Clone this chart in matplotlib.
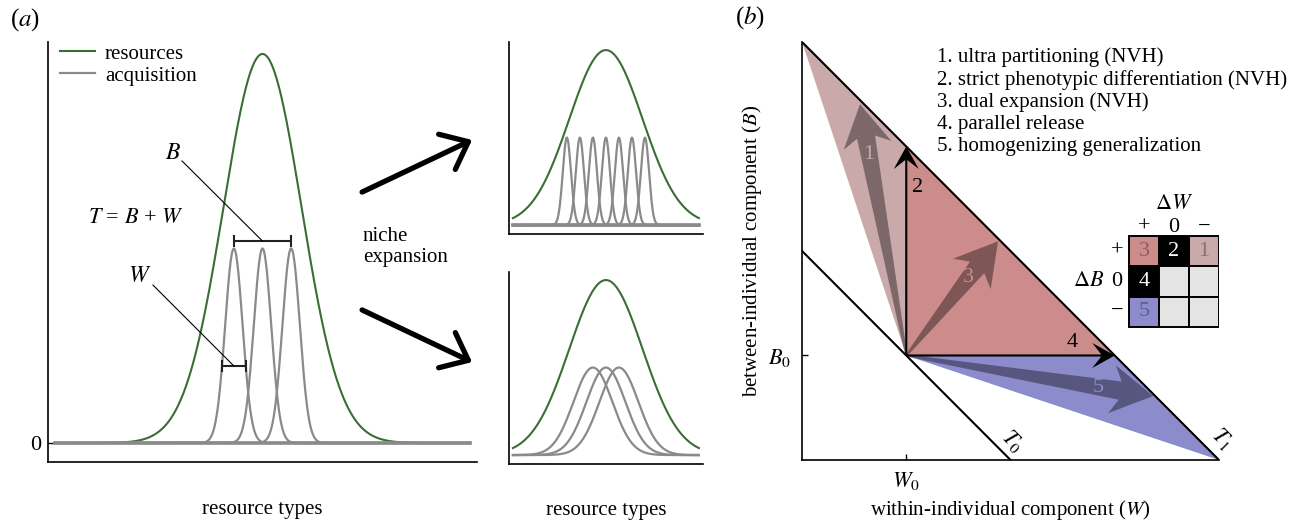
import numpy as np
import matplotlib
matplotlib.use('Agg')
import matplotlib.pyplot as plt
from matplotlib.patches import Polygon, Rectangle
from matplotlib.lines import Line2D

plt.rcParams['font.family'] = ['Liberation Serif', 'DejaVu Serif']
plt.rcParams['mathtext.fontset'] = 'stix'
plt.rcParams['font.size'] = 15

# ---- panel (a): resource / acquisition curves ----
res_centre = 0.5
res_sd_main = 0.094
res_sd_sub = 0.197
acq_height = 0.5
acq_centres_main = [0.431, 0.5, 0.569]
acq_sd_main = 0.021
acq_centres_top = [0.29, 0.36, 0.43, 0.5, 0.57, 0.64, 0.71]
acq_sd_top = 0.022
acq_centres_bottom = [0.43, 0.5, 0.57]
acq_sd_bottom = 0.105

# ---- panel (b): niche decomposition ----
W0, B0 = 0.25, 0.25
T0, T1 = 0.5, 1.0
arrow_ids = ['1', '2', '3', '4', '5']
arrow_tips = [(0.139, 0.851), (0.25, 0.75), (0.470, 0.523), (0.75, 0.25), (0.842, 0.153)]
arrow_label_pos = [(0.161, 0.731), (0.276, 0.652), (0.398, 0.436), (0.647, 0.281), (0.710, 0.173)]
strategies = ['1. ultra partitioning (NVH)',
              '2. strict phenotypic differentiation (NVH)',
              '3. dual expansion (NVH)',
              '4. parallel release',
              '5. homogenizing generalization']
table_signs = ['+', '0', '\u2212']
table_text = [['3', '2', '1'], ['4', '', ''], ['5', '', '']]

green = '#3b6e35'
grey = '#8a8a8a'
col1 = '#c9a9a9'
col3 = '#cc8c8c'
col5 = '#8c8ccc'
cell_grey = '#e4e4e4'
table_fill = [[col3, 'k', col1], ['k', cell_grey, cell_grey], [col5, cell_grey, cell_grey]]


def gauss(x, mu, sd, h=1.0):
    return h * np.exp(-0.5 * ((x - mu) / sd) ** 2)


def fat_arrow(ax, start, end, w0, w1, head_w, head_len, notch, **kw):
    start = np.asarray(start, float)
    end = np.asarray(end, float)
    d = end - start
    u = d / np.hypot(*d)
    n = np.array([-u[1], u[0]])
    base = end - u * head_len
    join = end - u * head_len * notch
    pts = [start + n * w0 / 2, join + n * w1 / 2, base + n * head_w, end,
           base - n * head_w, join - n * w1 / 2, start - n * w0 / 2]
    ax.add_patch(Polygon(pts, closed=True, lw=0, **kw))


def clean(ax):
    for s in ['top', 'right']:
        ax.spines[s].set_visible(False)
    for s in ['left', 'bottom']:
        ax.spines[s].set_linewidth(1.2)


fig = plt.figure(figsize=(13.06, 5.26), dpi=100)

x = np.linspace(0, 1, 800)

# main panel (a)
ax = fig.add_axes([0.03675, 0.1217, 0.3285, 0.7985])
clean(ax)
ax.plot(x, gauss(x, res_centre, res_sd_main), color=green, lw=1.5)
for c in acq_centres_main:
    ax.plot(x, gauss(x, c, acq_sd_main, acq_height), color=grey, lw=1.6)
ax.plot([0, 1], [0, 0], color=grey, lw=2.6)
ax.set_xlim(-0.0169, 1.0169)
ax.set_ylim(-0.0488, 1.0308)
ax.set_xticks([])
ax.set_yticks([0])
ax.tick_params(axis='y', direction='in', length=4, width=1, pad=5, labelsize=16)

# B and W brackets
bB = 0.519
ax.errorbar([np.mean(acq_centres_main[::2])], [bB],
            xerr=[(acq_centres_main[2] - acq_centres_main[0]) / 2], color='#222222',
            lw=1.5, capsize=4, capthick=1.5)
ax.plot([0.306, 0.5], [0.725, bB], color='k', lw=0.8)
ax.text(0.284, 0.745, '$B$', ha='center', va='center', fontsize=17)
wW = 0.198
ax.errorbar([acq_centres_main[0]], [wW], xerr=[0.029], color='#222222',
            lw=1.5, capsize=4, capthick=1.5)
ax.plot([0.236, acq_centres_main[0]], [0.406, wW], color='k', lw=0.8)
ax.text(0.205, 0.429, '$W$', ha='center', va='center', fontsize=17)
ax.text(0.08, 0.578, '$T$ = $B$ + $W$', ha='left', va='center', fontsize=16)

ax.legend(handles=[Line2D([], [], color=green, lw=1.5),
                   Line2D([], [], color=grey, lw=1.6)],
          labels=['resources', 'acquisition'], loc='upper left',
          bbox_to_anchor=(0.028, 0.995), frameon=False, borderaxespad=0,
          borderpad=0, handlelength=1.7, handletextpad=0.45, labelspacing=0.12)

ax.text(0.742, 0.504, 'niche\nexpansion', ha='left', va='center')
for tail, tip in [((0.740, 0.645), (1.005, 0.779)), ((0.740, 0.342), (1.005, 0.208))]:
    ax.annotate('', xy=tip, xytext=tail,
                arrowprops=dict(arrowstyle='->,head_length=0.85,head_width=0.7',
                                lw=3.8, color='k', mutation_scale=20,
                                shrinkA=0, shrinkB=0))
ax.text(0.5, -0.114, 'resource types', transform=ax.transAxes, ha='center', va='center')

# sub panels
for bottom, centres, sd in [(0.5551, acq_centres_top, acq_sd_top),
                            (0.1179, acq_centres_bottom, acq_sd_bottom)]:
    sax = fig.add_axes([0.3897, bottom, 0.1485, 0.365])
    clean(sax)
    sax.plot(x, gauss(x, res_centre, res_sd_sub), color=green, lw=1.5)
    for c in centres:
        sax.plot(x, gauss(x, c, sd, acq_height), color=grey, lw=1.6)
    if sd < 0.05:
        sax.plot([0, 1], [0, 0], color=grey, lw=2.6)
    sax.set_xlim(-0.0215, 1.0215)
    sax.set_ylim(-0.051, 1.046)
    sax.set_xticks([])
    sax.set_yticks([])
sax.text(0.5, -0.24, 'resource types', transform=sax.transAxes, ha='center', va='center')

# panel (b)
bx = fig.add_axes([0.6141, 0.1255, 0.3193, 0.7947])
clean(bx)
bx.set_xlim(0, 1)
bx.set_ylim(0, 1)
bx.add_patch(Polygon([(W0, B0), (0, T1), (W0, T1 - W0)], closed=True, fc=col1, lw=0))
bx.add_patch(Polygon([(W0, B0), (W0, T1 - W0), (T1 - B0, B0)], closed=True, fc=col3, lw=0))
bx.add_patch(Polygon([(W0, B0), (T1 - B0, B0), (T1, 0)], closed=True, fc=col5, lw=0))
bx.plot([0, T1], [T1, 0], color='k', lw=1.5)
bx.plot([0, T0], [T0, 0], color='k', lw=1.5)

for aid, tip, lp in zip(arrow_ids, arrow_tips, arrow_label_pos):
    if aid in ('2', '4'):
        fat_arrow(bx, (W0, B0), tip, 0.005, 0.005, 0.03, 0.054, 0.6, fc='k', zorder=3)
        bx.text(lp[0], lp[1], aid, ha='center', va='center', color='k', fontsize=16)
    else:
        fat_arrow(bx, (W0, B0), tip, 0.005, 0.044, 0.058, 0.1, 0.8, fc='k', alpha=0.38)
        fill = {'1': col1, '3': col3, '5': col5}[aid]
        bx.text(lp[0], lp[1], aid, ha='center', va='center', color=fill, fontsize=16)

bx.text(0.324, 0.858, '\n'.join(strategies), ha='left', va='center', linespacing=1.2)
bx.text(0.504, 0.045, '$T_0$', rotation=-45, ha='center', va='center', fontsize=16)
bx.text(1.008, 0.052, '$T_1$', rotation=-45, ha='center', va='center', fontsize=16)

bx.set_xticks([W0])
bx.set_xticklabels(['$W_0$'])
bx.set_yticks([B0])
bx.set_yticklabels(['$B_0$'])
bx.tick_params(axis='both', direction='in', length=4, width=1, labelsize=16)
bx.tick_params(axis='x', pad=7)
bx.tick_params(axis='y', pad=8)
bx.text(0.5, -0.12, 'within-individual component ($W$)', transform=bx.transAxes,
        ha='center', va='center')
bx.text(-0.12, 0.5, 'between-individual component ($B$)', transform=bx.transAxes,
        ha='center', va='center', rotation=90)

# sign table
cx0, cy0, cs = 0.784, 0.535, 0.072
for i in range(3):
    for j in range(3):
        bx.add_patch(Rectangle((cx0 + j * cs, cy0 - (i + 1) * cs), cs, cs,
                               fc=table_fill[i][j], ec='k', lw=1.4, zorder=4))
        t = table_text[i][j]
        if t:
            tc = 'w' if table_fill[i][j] == 'k' else (0, 0, 0, 0.32)
            bx.text(cx0 + (j + 0.5) * cs, cy0 - (i + 0.5) * cs, t, ha='center',
                    va='center', color=tc, zorder=5, fontsize=16)
    bx.text(cx0 + (i + 0.5) * cs, cy0 + 0.022, table_signs[i], ha='center', va='center',
            fontsize=16)
    bx.text(cx0 - 0.029, cy0 - (i + 0.5) * cs, table_signs[i], ha='center', va='center',
            fontsize=16)
bx.text(cx0 + 1.5 * cs, cy0 + 0.075, '$\\Delta W$', ha='center', va='center', fontsize=16)
bx.text(cx0 - 0.098, cy0 - 1.5 * cs, '$\\Delta B$', ha='center', va='center', fontsize=16)

fig.text(25 / 1306, 1 - 20 / 526, '($a$)', ha='center', va='center', fontsize=18)
fig.text(750 / 1306, 1 - 18 / 526, '($b$)', ha='center', va='center', fontsize=18)

fig.savefig('out.png', dpi=100)
